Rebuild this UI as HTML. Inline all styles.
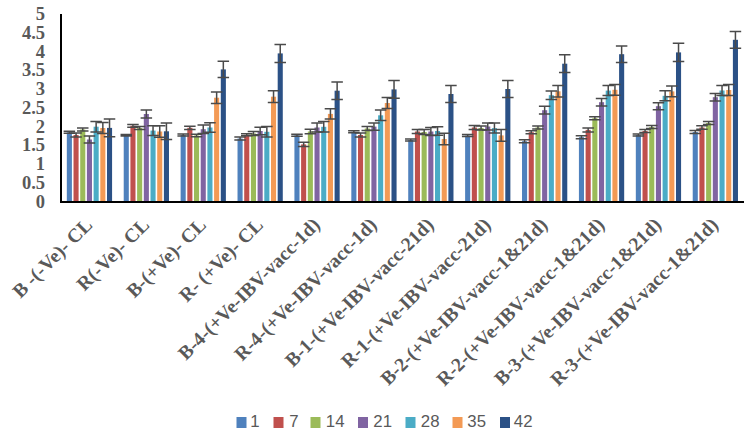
<!DOCTYPE html>
<html><head><meta charset="utf-8"><style>
html,body{margin:0;padding:0;background:#fff;}
body{width:749px;height:434px;overflow:hidden;font-family:"Liberation Sans",sans-serif;}
svg{display:block;}
</style></head><body>
<svg width="749" height="434" viewBox="0 0 749 434">
<rect x="0" y="0" width="749" height="434" fill="#ffffff"/>
<rect x="66.82" y="132.30" width="5.09" height="69.20" fill="#4F81BD"/>
<rect x="73.51" y="135.00" width="5.09" height="66.50" fill="#C0504D"/>
<rect x="80.21" y="129.50" width="5.09" height="72.00" fill="#9BBB59"/>
<rect x="86.90" y="139.50" width="5.09" height="62.00" fill="#8064A2"/>
<rect x="93.60" y="126.70" width="5.09" height="74.80" fill="#4BACC6"/>
<rect x="100.29" y="128.00" width="5.09" height="73.50" fill="#F39A55"/>
<rect x="106.99" y="127.90" width="5.09" height="73.60" fill="#2B5186"/>
<rect x="123.72" y="135.30" width="5.09" height="66.20" fill="#4F81BD"/>
<rect x="130.41" y="125.80" width="5.09" height="75.70" fill="#C0504D"/>
<rect x="137.11" y="128.00" width="5.09" height="73.50" fill="#9BBB59"/>
<rect x="143.80" y="114.00" width="5.09" height="87.50" fill="#8064A2"/>
<rect x="150.50" y="130.60" width="5.09" height="70.90" fill="#4BACC6"/>
<rect x="157.19" y="131.50" width="5.09" height="70.00" fill="#F39A55"/>
<rect x="163.89" y="131.30" width="5.09" height="70.20" fill="#2B5186"/>
<rect x="180.62" y="135.00" width="5.09" height="66.50" fill="#4F81BD"/>
<rect x="187.31" y="127.80" width="5.09" height="73.70" fill="#C0504D"/>
<rect x="194.01" y="135.50" width="5.09" height="66.00" fill="#9BBB59"/>
<rect x="200.70" y="129.20" width="5.09" height="72.30" fill="#8064A2"/>
<rect x="207.40" y="127.50" width="5.09" height="74.00" fill="#4BACC6"/>
<rect x="214.09" y="97.70" width="5.09" height="103.80" fill="#F39A55"/>
<rect x="220.79" y="69.40" width="5.09" height="132.10" fill="#2B5186"/>
<rect x="237.52" y="138.50" width="5.09" height="63.00" fill="#4F81BD"/>
<rect x="244.21" y="134.80" width="5.09" height="66.70" fill="#C0504D"/>
<rect x="250.91" y="133.50" width="5.09" height="68.00" fill="#9BBB59"/>
<rect x="257.60" y="131.00" width="5.09" height="70.50" fill="#8064A2"/>
<rect x="264.30" y="131.80" width="5.09" height="69.70" fill="#4BACC6"/>
<rect x="270.99" y="96.70" width="5.09" height="104.80" fill="#F39A55"/>
<rect x="277.69" y="53.40" width="5.09" height="148.10" fill="#2B5186"/>
<rect x="294.42" y="135.30" width="5.09" height="66.20" fill="#4F81BD"/>
<rect x="301.11" y="144.40" width="5.09" height="57.10" fill="#C0504D"/>
<rect x="307.81" y="131.50" width="5.09" height="70.00" fill="#9BBB59"/>
<rect x="314.50" y="127.50" width="5.09" height="74.00" fill="#8064A2"/>
<rect x="321.20" y="126.80" width="5.09" height="74.70" fill="#4BACC6"/>
<rect x="327.89" y="113.90" width="5.09" height="87.60" fill="#F39A55"/>
<rect x="334.59" y="90.70" width="5.09" height="110.80" fill="#2B5186"/>
<rect x="351.32" y="131.70" width="5.09" height="69.80" fill="#4F81BD"/>
<rect x="358.01" y="135.00" width="5.09" height="66.50" fill="#C0504D"/>
<rect x="364.71" y="128.50" width="5.09" height="73.00" fill="#9BBB59"/>
<rect x="371.40" y="126.60" width="5.09" height="74.90" fill="#8064A2"/>
<rect x="378.10" y="115.30" width="5.09" height="86.20" fill="#4BACC6"/>
<rect x="384.79" y="103.00" width="5.09" height="98.50" fill="#F39A55"/>
<rect x="391.49" y="89.40" width="5.09" height="112.10" fill="#2B5186"/>
<rect x="408.22" y="140.00" width="5.09" height="61.50" fill="#4F81BD"/>
<rect x="414.91" y="131.50" width="5.09" height="70.00" fill="#C0504D"/>
<rect x="421.61" y="132.00" width="5.09" height="69.50" fill="#9BBB59"/>
<rect x="428.30" y="131.50" width="5.09" height="70.00" fill="#8064A2"/>
<rect x="435.00" y="131.00" width="5.09" height="70.50" fill="#4BACC6"/>
<rect x="441.69" y="139.00" width="5.09" height="62.50" fill="#F39A55"/>
<rect x="448.39" y="94.00" width="5.09" height="107.50" fill="#2B5186"/>
<rect x="465.12" y="135.60" width="5.09" height="65.90" fill="#4F81BD"/>
<rect x="471.81" y="127.50" width="5.09" height="74.00" fill="#C0504D"/>
<rect x="478.51" y="128.00" width="5.09" height="73.50" fill="#9BBB59"/>
<rect x="485.20" y="126.50" width="5.09" height="75.00" fill="#8064A2"/>
<rect x="491.90" y="128.10" width="5.09" height="73.40" fill="#4BACC6"/>
<rect x="498.59" y="135.40" width="5.09" height="66.10" fill="#F39A55"/>
<rect x="505.29" y="89.00" width="5.09" height="112.50" fill="#2B5186"/>
<rect x="522.02" y="141.20" width="5.09" height="60.30" fill="#4F81BD"/>
<rect x="528.71" y="132.20" width="5.09" height="69.30" fill="#C0504D"/>
<rect x="535.41" y="127.50" width="5.09" height="74.00" fill="#9BBB59"/>
<rect x="542.10" y="110.20" width="5.09" height="91.30" fill="#8064A2"/>
<rect x="548.80" y="95.20" width="5.09" height="106.30" fill="#4BACC6"/>
<rect x="555.49" y="91.30" width="5.09" height="110.20" fill="#F39A55"/>
<rect x="562.19" y="63.70" width="5.09" height="137.80" fill="#2B5186"/>
<rect x="578.92" y="137.20" width="5.09" height="64.30" fill="#4F81BD"/>
<rect x="585.61" y="129.90" width="5.09" height="71.60" fill="#C0504D"/>
<rect x="592.31" y="118.20" width="5.09" height="83.30" fill="#9BBB59"/>
<rect x="599.00" y="102.20" width="5.09" height="99.30" fill="#8064A2"/>
<rect x="605.70" y="90.60" width="5.09" height="110.90" fill="#4BACC6"/>
<rect x="612.39" y="89.80" width="5.09" height="111.70" fill="#F39A55"/>
<rect x="619.09" y="54.20" width="5.09" height="147.30" fill="#2B5186"/>
<rect x="635.82" y="135.00" width="5.09" height="66.50" fill="#4F81BD"/>
<rect x="642.51" y="131.00" width="5.09" height="70.50" fill="#C0504D"/>
<rect x="649.21" y="127.00" width="5.09" height="74.50" fill="#9BBB59"/>
<rect x="655.90" y="106.20" width="5.09" height="95.30" fill="#8064A2"/>
<rect x="662.60" y="95.80" width="5.09" height="105.70" fill="#4BACC6"/>
<rect x="669.29" y="91.40" width="5.09" height="110.10" fill="#F39A55"/>
<rect x="675.99" y="52.40" width="5.09" height="149.10" fill="#2B5186"/>
<rect x="692.72" y="132.00" width="5.09" height="69.50" fill="#4F81BD"/>
<rect x="699.41" y="127.50" width="5.09" height="74.00" fill="#C0504D"/>
<rect x="706.11" y="123.00" width="5.09" height="78.50" fill="#9BBB59"/>
<rect x="712.80" y="97.20" width="5.09" height="104.30" fill="#8064A2"/>
<rect x="719.50" y="90.50" width="5.09" height="111.00" fill="#4BACC6"/>
<rect x="726.19" y="90.00" width="5.09" height="111.50" fill="#F39A55"/>
<rect x="732.89" y="39.80" width="5.09" height="161.70" fill="#2B5186"/>
<path d="M69.37 131.30V133.30M63.62 131.30H75.12M63.62 133.30H75.12" stroke="#4a4a4a" stroke-width="1.5" fill="none"/>
<path d="M76.06 133.00V137.00M70.31 133.00H81.81M70.31 137.00H81.81" stroke="#4a4a4a" stroke-width="1.5" fill="none"/>
<path d="M82.76 127.90V131.10M77.01 127.90H88.51M77.01 131.10H88.51" stroke="#4a4a4a" stroke-width="1.5" fill="none"/>
<path d="M89.45 136.00V143.00M83.70 136.00H95.20M83.70 143.00H95.20" stroke="#4a4a4a" stroke-width="1.5" fill="none"/>
<path d="M96.14 121.50V131.90M90.39 121.50H101.89M90.39 131.90H101.89" stroke="#4a4a4a" stroke-width="1.5" fill="none"/>
<path d="M102.84 122.60V133.40M97.09 122.60H108.59M97.09 133.40H108.59" stroke="#4a4a4a" stroke-width="1.5" fill="none"/>
<path d="M109.53 119.00V136.80M103.78 119.00H115.28M103.78 136.80H115.28" stroke="#4a4a4a" stroke-width="1.5" fill="none"/>
<path d="M126.27 134.50V136.10M120.52 134.50H132.02M120.52 136.10H132.02" stroke="#4a4a4a" stroke-width="1.5" fill="none"/>
<path d="M132.96 124.40V127.20M127.21 124.40H138.71M127.21 127.20H138.71" stroke="#4a4a4a" stroke-width="1.5" fill="none"/>
<path d="M139.66 126.50V129.50M133.91 126.50H145.41M133.91 129.50H145.41" stroke="#4a4a4a" stroke-width="1.5" fill="none"/>
<path d="M146.35 110.10V117.90M140.60 110.10H152.10M140.60 117.90H152.10" stroke="#4a4a4a" stroke-width="1.5" fill="none"/>
<path d="M153.04 125.70V135.50M147.29 125.70H158.79M147.29 135.50H158.79" stroke="#4a4a4a" stroke-width="1.5" fill="none"/>
<path d="M159.74 125.70V137.30M153.99 125.70H165.49M153.99 137.30H165.49" stroke="#4a4a4a" stroke-width="1.5" fill="none"/>
<path d="M166.43 123.00V139.60M160.68 123.00H172.18M160.68 139.60H172.18" stroke="#4a4a4a" stroke-width="1.5" fill="none"/>
<path d="M183.17 134.00V136.00M177.42 134.00H188.92M177.42 136.00H188.92" stroke="#4a4a4a" stroke-width="1.5" fill="none"/>
<path d="M189.86 126.20V129.40M184.11 126.20H195.61M184.11 129.40H195.61" stroke="#4a4a4a" stroke-width="1.5" fill="none"/>
<path d="M196.56 134.20V136.80M190.81 134.20H202.31M190.81 136.80H202.31" stroke="#4a4a4a" stroke-width="1.5" fill="none"/>
<path d="M203.25 125.00V133.40M197.50 125.00H209.00M197.50 133.40H209.00" stroke="#4a4a4a" stroke-width="1.5" fill="none"/>
<path d="M209.94 122.70V132.30M204.19 122.70H215.69M204.19 132.30H215.69" stroke="#4a4a4a" stroke-width="1.5" fill="none"/>
<path d="M216.64 92.00V103.40M210.89 92.00H222.39M210.89 103.40H222.39" stroke="#4a4a4a" stroke-width="1.5" fill="none"/>
<path d="M223.33 61.20V77.60M217.58 61.20H229.08M217.58 77.60H229.08" stroke="#4a4a4a" stroke-width="1.5" fill="none"/>
<path d="M240.07 137.00V140.00M234.32 137.00H245.82M234.32 140.00H245.82" stroke="#4a4a4a" stroke-width="1.5" fill="none"/>
<path d="M246.76 133.80V135.80M241.01 133.80H252.51M241.01 135.80H252.51" stroke="#4a4a4a" stroke-width="1.5" fill="none"/>
<path d="M253.46 131.50V135.50M247.71 131.50H259.21M247.71 135.50H259.21" stroke="#4a4a4a" stroke-width="1.5" fill="none"/>
<path d="M260.15 127.20V134.80M254.40 127.20H265.90M254.40 134.80H265.90" stroke="#4a4a4a" stroke-width="1.5" fill="none"/>
<path d="M266.84 126.50V137.10M261.09 126.50H272.59M261.09 137.10H272.59" stroke="#4a4a4a" stroke-width="1.5" fill="none"/>
<path d="M273.54 90.80V102.60M267.79 90.80H279.29M267.79 102.60H279.29" stroke="#4a4a4a" stroke-width="1.5" fill="none"/>
<path d="M280.23 44.40V62.40M274.48 44.40H285.98M274.48 62.40H285.98" stroke="#4a4a4a" stroke-width="1.5" fill="none"/>
<path d="M296.97 134.30V136.30M291.22 134.30H302.72M291.22 136.30H302.72" stroke="#4a4a4a" stroke-width="1.5" fill="none"/>
<path d="M303.66 142.30V146.50M297.91 142.30H309.41M297.91 146.50H309.41" stroke="#4a4a4a" stroke-width="1.5" fill="none"/>
<path d="M310.36 129.30V133.70M304.61 129.30H316.11M304.61 133.70H316.11" stroke="#4a4a4a" stroke-width="1.5" fill="none"/>
<path d="M317.05 122.90V132.10M311.30 122.90H322.80M311.30 132.10H322.80" stroke="#4a4a4a" stroke-width="1.5" fill="none"/>
<path d="M323.74 121.50V132.10M317.99 121.50H329.49M317.99 132.10H329.49" stroke="#4a4a4a" stroke-width="1.5" fill="none"/>
<path d="M330.44 108.70V119.10M324.69 108.70H336.19M324.69 119.10H336.19" stroke="#4a4a4a" stroke-width="1.5" fill="none"/>
<path d="M337.13 81.90V99.50M331.38 81.90H342.88M331.38 99.50H342.88" stroke="#4a4a4a" stroke-width="1.5" fill="none"/>
<path d="M353.87 130.70V132.70M348.12 130.70H359.62M348.12 132.70H359.62" stroke="#4a4a4a" stroke-width="1.5" fill="none"/>
<path d="M360.56 132.90V137.10M354.81 132.90H366.31M354.81 137.10H366.31" stroke="#4a4a4a" stroke-width="1.5" fill="none"/>
<path d="M367.26 126.50V130.50M361.51 126.50H373.01M361.51 130.50H373.01" stroke="#4a4a4a" stroke-width="1.5" fill="none"/>
<path d="M373.95 122.90V130.30M368.20 122.90H379.70M368.20 130.30H379.70" stroke="#4a4a4a" stroke-width="1.5" fill="none"/>
<path d="M380.64 110.10V120.50M374.89 110.10H386.39M374.89 120.50H386.39" stroke="#4a4a4a" stroke-width="1.5" fill="none"/>
<path d="M387.34 97.40V108.60M381.59 97.40H393.09M381.59 108.60H393.09" stroke="#4a4a4a" stroke-width="1.5" fill="none"/>
<path d="M394.03 80.60V98.20M388.28 80.60H399.78M388.28 98.20H399.78" stroke="#4a4a4a" stroke-width="1.5" fill="none"/>
<path d="M410.77 139.00V141.00M405.02 139.00H416.52M405.02 141.00H416.52" stroke="#4a4a4a" stroke-width="1.5" fill="none"/>
<path d="M417.46 129.50V133.50M411.71 129.50H423.21M411.71 133.50H423.21" stroke="#4a4a4a" stroke-width="1.5" fill="none"/>
<path d="M424.16 129.50V134.50M418.41 129.50H429.91M418.41 134.50H429.91" stroke="#4a4a4a" stroke-width="1.5" fill="none"/>
<path d="M430.85 127.50V135.50M425.10 127.50H436.60M425.10 135.50H436.60" stroke="#4a4a4a" stroke-width="1.5" fill="none"/>
<path d="M437.54 126.70V135.30M431.79 126.70H443.29M431.79 135.30H443.29" stroke="#4a4a4a" stroke-width="1.5" fill="none"/>
<path d="M444.24 133.20V144.80M438.49 133.20H449.99M438.49 144.80H449.99" stroke="#4a4a4a" stroke-width="1.5" fill="none"/>
<path d="M450.93 85.60V102.40M445.18 85.60H456.68M445.18 102.40H456.68" stroke="#4a4a4a" stroke-width="1.5" fill="none"/>
<path d="M467.67 134.60V136.60M461.92 134.60H473.42M461.92 136.60H473.42" stroke="#4a4a4a" stroke-width="1.5" fill="none"/>
<path d="M474.36 125.50V129.50M468.61 125.50H480.11M468.61 129.50H480.11" stroke="#4a4a4a" stroke-width="1.5" fill="none"/>
<path d="M481.06 126.00V130.00M475.31 126.00H486.81M475.31 130.00H486.81" stroke="#4a4a4a" stroke-width="1.5" fill="none"/>
<path d="M487.75 123.10V129.90M482.00 123.10H493.50M482.00 129.90H493.50" stroke="#4a4a4a" stroke-width="1.5" fill="none"/>
<path d="M494.44 123.10V133.10M488.69 123.10H500.19M488.69 133.10H500.19" stroke="#4a4a4a" stroke-width="1.5" fill="none"/>
<path d="M501.14 129.50V141.30M495.39 129.50H506.89M495.39 141.30H506.89" stroke="#4a4a4a" stroke-width="1.5" fill="none"/>
<path d="M507.83 80.40V97.60M502.08 80.40H513.58M502.08 97.60H513.58" stroke="#4a4a4a" stroke-width="1.5" fill="none"/>
<path d="M524.57 139.70V142.70M518.82 139.70H530.32M518.82 142.70H530.32" stroke="#4a4a4a" stroke-width="1.5" fill="none"/>
<path d="M531.26 130.70V133.70M525.51 130.70H537.01M525.51 133.70H537.01" stroke="#4a4a4a" stroke-width="1.5" fill="none"/>
<path d="M537.96 126.00V129.00M532.21 126.00H543.71M532.21 129.00H543.71" stroke="#4a4a4a" stroke-width="1.5" fill="none"/>
<path d="M544.65 106.30V114.10M538.90 106.30H550.40M538.90 114.10H550.40" stroke="#4a4a4a" stroke-width="1.5" fill="none"/>
<path d="M551.34 90.90V99.50M545.59 90.90H557.09M545.59 99.50H557.09" stroke="#4a4a4a" stroke-width="1.5" fill="none"/>
<path d="M558.04 85.50V97.10M552.29 85.50H563.79M552.29 97.10H563.79" stroke="#4a4a4a" stroke-width="1.5" fill="none"/>
<path d="M564.73 54.80V72.60M558.98 54.80H570.48M558.98 72.60H570.48" stroke="#4a4a4a" stroke-width="1.5" fill="none"/>
<path d="M581.47 135.70V138.70M575.72 135.70H587.22M575.72 138.70H587.22" stroke="#4a4a4a" stroke-width="1.5" fill="none"/>
<path d="M588.16 127.90V131.90M582.41 127.90H593.91M582.41 131.90H593.91" stroke="#4a4a4a" stroke-width="1.5" fill="none"/>
<path d="M594.86 116.70V119.70M589.11 116.70H600.61M589.11 119.70H600.61" stroke="#4a4a4a" stroke-width="1.5" fill="none"/>
<path d="M601.55 98.40V106.00M595.80 98.40H607.30M595.80 106.00H607.30" stroke="#4a4a4a" stroke-width="1.5" fill="none"/>
<path d="M608.24 85.60V95.60M602.49 85.60H613.99M602.49 95.60H613.99" stroke="#4a4a4a" stroke-width="1.5" fill="none"/>
<path d="M614.94 84.40V95.20M609.19 84.40H620.69M609.19 95.20H620.69" stroke="#4a4a4a" stroke-width="1.5" fill="none"/>
<path d="M621.63 45.90V62.50M615.88 45.90H627.38M615.88 62.50H627.38" stroke="#4a4a4a" stroke-width="1.5" fill="none"/>
<path d="M638.37 134.00V136.00M632.62 134.00H644.12M632.62 136.00H644.12" stroke="#4a4a4a" stroke-width="1.5" fill="none"/>
<path d="M645.06 129.50V132.50M639.31 129.50H650.81M639.31 132.50H650.81" stroke="#4a4a4a" stroke-width="1.5" fill="none"/>
<path d="M651.76 125.50V128.50M646.01 125.50H657.51M646.01 128.50H657.51" stroke="#4a4a4a" stroke-width="1.5" fill="none"/>
<path d="M658.45 102.70V109.70M652.70 102.70H664.20M652.70 109.70H664.20" stroke="#4a4a4a" stroke-width="1.5" fill="none"/>
<path d="M665.14 90.80V100.80M659.39 90.80H670.89M659.39 100.80H670.89" stroke="#4a4a4a" stroke-width="1.5" fill="none"/>
<path d="M671.84 86.00V96.80M666.09 86.00H677.59M666.09 96.80H677.59" stroke="#4a4a4a" stroke-width="1.5" fill="none"/>
<path d="M678.53 43.30V61.50M672.78 43.30H684.28M672.78 61.50H684.28" stroke="#4a4a4a" stroke-width="1.5" fill="none"/>
<path d="M695.27 130.50V133.50M689.52 130.50H701.02M689.52 133.50H701.02" stroke="#4a4a4a" stroke-width="1.5" fill="none"/>
<path d="M701.96 125.80V129.20M696.21 125.80H707.71M696.21 129.20H707.71" stroke="#4a4a4a" stroke-width="1.5" fill="none"/>
<path d="M708.66 121.50V124.50M702.91 121.50H714.41M702.91 124.50H714.41" stroke="#4a4a4a" stroke-width="1.5" fill="none"/>
<path d="M715.35 93.50V100.90M709.60 93.50H721.10M709.60 100.90H721.10" stroke="#4a4a4a" stroke-width="1.5" fill="none"/>
<path d="M722.04 85.50V95.50M716.29 85.50H727.79M716.29 95.50H727.79" stroke="#4a4a4a" stroke-width="1.5" fill="none"/>
<path d="M728.74 84.50V95.50M722.99 84.50H734.49M722.99 95.50H734.49" stroke="#4a4a4a" stroke-width="1.5" fill="none"/>
<path d="M735.43 31.40V48.20M729.68 31.40H741.18M729.68 48.20H741.18" stroke="#4a4a4a" stroke-width="1.5" fill="none"/>
<rect x="60" y="14" width="2" height="189" fill="#000"/>
<rect x="60" y="201" width="684" height="2" fill="#000"/>
<text x="45.0" y="207.50" text-anchor="end" font-family="Liberation Serif" font-weight="bold" font-size="18.5" fill="#595959">0</text>
<text x="45.0" y="188.75" text-anchor="end" font-family="Liberation Serif" font-weight="bold" font-size="18.5" fill="#595959">0.5</text>
<text x="45.0" y="170.00" text-anchor="end" font-family="Liberation Serif" font-weight="bold" font-size="18.5" fill="#595959">1</text>
<text x="45.0" y="151.25" text-anchor="end" font-family="Liberation Serif" font-weight="bold" font-size="18.5" fill="#595959">1.5</text>
<text x="45.0" y="132.50" text-anchor="end" font-family="Liberation Serif" font-weight="bold" font-size="18.5" fill="#595959">2</text>
<text x="45.0" y="113.75" text-anchor="end" font-family="Liberation Serif" font-weight="bold" font-size="18.5" fill="#595959">2.5</text>
<text x="45.0" y="95.00" text-anchor="end" font-family="Liberation Serif" font-weight="bold" font-size="18.5" fill="#595959">3</text>
<text x="45.0" y="76.25" text-anchor="end" font-family="Liberation Serif" font-weight="bold" font-size="18.5" fill="#595959">3.5</text>
<text x="45.0" y="57.50" text-anchor="end" font-family="Liberation Serif" font-weight="bold" font-size="18.5" fill="#595959">4</text>
<text x="45.0" y="38.75" text-anchor="end" font-family="Liberation Serif" font-weight="bold" font-size="18.5" fill="#595959">4.5</text>
<text x="45.0" y="20.00" text-anchor="end" font-family="Liberation Serif" font-weight="bold" font-size="18.5" fill="#595959">5</text>
<text transform="translate(93.45 226.00) rotate(-45)" text-anchor="end" font-family="Liberation Serif" font-weight="bold" font-size="19.5" fill="#595959">B -(-Ve)- CL</text>
<text transform="translate(150.35 226.00) rotate(-45)" text-anchor="end" font-family="Liberation Serif" font-weight="bold" font-size="19.5" fill="#595959">R(-Ve)- CL</text>
<text transform="translate(207.25 226.00) rotate(-45)" text-anchor="end" font-family="Liberation Serif" font-weight="bold" font-size="19.5" fill="#595959">B-(+Ve)- CL</text>
<text transform="translate(264.15 226.00) rotate(-45)" text-anchor="end" font-family="Liberation Serif" font-weight="bold" font-size="19.5" fill="#595959">R- (+Ve)- CL</text>
<text transform="translate(321.05 226.00) rotate(-45)" text-anchor="end" font-family="Liberation Serif" font-weight="bold" font-size="19.5" fill="#595959">B-4-(+Ve-IBV-vacc-1d)</text>
<text transform="translate(377.95 226.00) rotate(-45)" text-anchor="end" font-family="Liberation Serif" font-weight="bold" font-size="19.5" fill="#595959">R-4-(+Ve-IBV-vacc-1d)</text>
<text transform="translate(434.85 226.00) rotate(-45)" text-anchor="end" font-family="Liberation Serif" font-weight="bold" font-size="19.5" fill="#595959">B-1-(+Ve-IBV-vacc-21d)</text>
<text transform="translate(491.75 226.00) rotate(-45)" text-anchor="end" font-family="Liberation Serif" font-weight="bold" font-size="19.5" fill="#595959">R-1-(+Ve-IBV-vacc-21d)</text>
<text transform="translate(548.65 226.00) rotate(-45)" text-anchor="end" font-family="Liberation Serif" font-weight="bold" font-size="19.5" fill="#595959">B-2-(+Ve-IBV-vacc-1&amp;21d)</text>
<text transform="translate(605.55 226.00) rotate(-45)" text-anchor="end" font-family="Liberation Serif" font-weight="bold" font-size="19.5" fill="#595959">R-2-(+Ve-IBV-vacc-1&amp;21d)</text>
<text transform="translate(662.45 226.00) rotate(-45)" text-anchor="end" font-family="Liberation Serif" font-weight="bold" font-size="19.5" fill="#595959">B-3-(+Ve-IBV-vacc-1&amp;21d)</text>
<text transform="translate(719.35 226.00) rotate(-45)" text-anchor="end" font-family="Liberation Serif" font-weight="bold" font-size="19.5" fill="#595959">R-3-(+Ve-IBV-vacc-1&amp;21d)</text>
<rect x="236.5" y="417" width="10" height="11" fill="#4F81BD"/>
<text x="250.3" y="426.8" font-family="Liberation Sans" font-size="16.8" fill="#595959">1</text>
<rect x="273.5" y="417" width="10" height="11" fill="#C0504D"/>
<text x="289.3" y="426.8" font-family="Liberation Sans" font-size="16.8" fill="#595959">7</text>
<rect x="310.5" y="417" width="10" height="11" fill="#9BBB59"/>
<text x="325.8" y="426.8" font-family="Liberation Sans" font-size="16.8" fill="#595959">14</text>
<rect x="358" y="417" width="10" height="11" fill="#8064A2"/>
<text x="373.3" y="426.8" font-family="Liberation Sans" font-size="16.8" fill="#595959">21</text>
<rect x="405.5" y="417" width="10" height="11" fill="#4BACC6"/>
<text x="420.8" y="426.8" font-family="Liberation Sans" font-size="16.8" fill="#595959">28</text>
<rect x="452.5" y="417" width="10" height="11" fill="#F39A55"/>
<text x="467.3" y="426.8" font-family="Liberation Sans" font-size="16.8" fill="#595959">35</text>
<rect x="500" y="417" width="10" height="11" fill="#2B5186"/>
<text x="513.8" y="426.8" font-family="Liberation Sans" font-size="16.8" fill="#595959">42</text>
</svg>
</body></html>
